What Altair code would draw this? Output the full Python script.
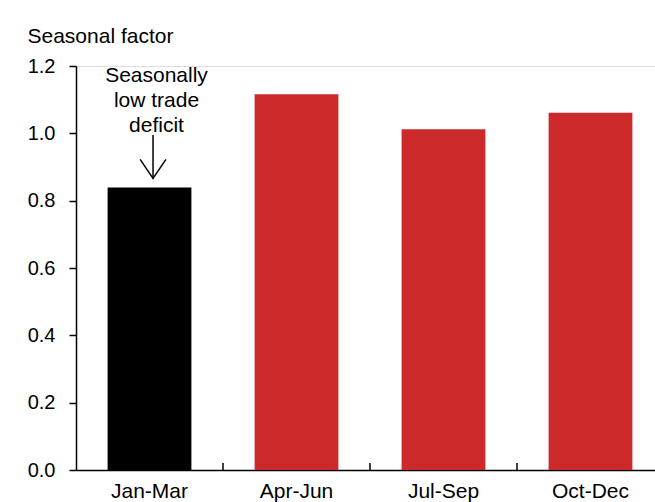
import altair as alt
import pandas as pd

quarters = ["Jan-Mar", "Apr-Jun", "Jul-Sep", "Oct-Dec"]
factors = [0.839, 1.116, 1.012, 1.061]
colors = ["#000000", "#CC2A2A", "#CC2A2A", "#CC2A2A"]
y_ticks = [0.0, 0.2, 0.4, 0.6, 0.8, 1.0, 1.2]
annot_lines = ["Seasonally", "low trade", "deficit"]
annot_quarter = "Jan-Mar"

FONT = "Liberation Sans"

df = pd.DataFrame({"quarter": quarters, "factor": factors, "color": colors})

xscale = alt.Scale(domain=quarters, range=[0, 588], paddingInner=0, paddingOuter=0)
yscale = alt.Scale(domain=[0, 1.2], nice=False, zero=True)

base = alt.Chart(df)

bars = base.mark_bar(width=alt.RelativeBandSize(0.57)).encode(
    x=alt.X("quarter:N", scale=xscale, sort=quarters, title=None,
            axis=alt.Axis(ticks=False, labelAngle=0, labelFont=FONT, labelFontSize=21,
                          labelColor="black", labelPadding=10, domainColor="black",
                          domainWidth=1.5)),
    y=alt.Y("factor:Q", scale=yscale,
            axis=alt.Axis(values=y_ticks, format=".1f", grid=False, tickSize=7,
                          tickColor="black", tickWidth=1.5, domainColor="black",
                          domainWidth=1.5, labelFont=FONT, labelFontSize=20,
                          labelColor="black", labelPadding=14,
                          title="Seasonal factor", titleAngle=0, titleAlign="left",
                          titleBaseline="alphabetic", titleX=-49, titleY=-24,
                          titleFont=FONT, titleFontSize=21, titleFontWeight="normal",
                          titleColor="black")),
    color=alt.Color("color:N", scale=None),
)

xticks = base.transform_filter(
    alt.datum.quarter != quarters[0]
).mark_rule(color="black", strokeWidth=1.5).encode(
    x=alt.X("quarter:N", scale=xscale, sort=quarters, bandPosition=0),
    y=alt.Y(datum=0),
    y2=alt.Y2(datum=0.021),
)

annot_df = pd.DataFrame({"quarter": [annot_quarter]})
abase = alt.Chart(annot_df)

annot_text = abase.mark_text(
    text=annot_lines, font=FONT, fontSize=21, color="black", align="center",
    baseline="alphabetic", lineHeight=25, dx=7
).encode(
    x=alt.X("quarter:N", scale=xscale, sort=quarters),
    y=alt.Y(datum=1.1525),
)

arrow_line = abase.mark_rule(color="black", strokeWidth=1.5).encode(
    x=alt.X("quarter:N", scale=xscale, sort=quarters, bandPosition=0.524),
    y=alt.Y(datum=0.995),
    y2=alt.Y2(datum=0.866),
)

arrow_head = abase.mark_point(
    shape="M-0.68,-1L0,0L0.68,-1", size=1444, filled=False, color="black",
    strokeWidth=1.5, opacity=1
).encode(
    x=alt.X("quarter:N", scale=xscale, sort=quarters, bandPosition=0.524),
    y=alt.Y(datum=0.866),
)

chart = alt.layer(bars, xticks, annot_text, arrow_line, arrow_head).properties(
    width=579, height=404,
    autosize=alt.AutoSizeParams(type="none"),
    padding={"left": 76, "top": 66, "right": 0, "bottom": 32},
).configure_view(stroke=None).configure(background="white")

chart.save("out.html", embed_options={"renderer": "svg", "actions": False})
